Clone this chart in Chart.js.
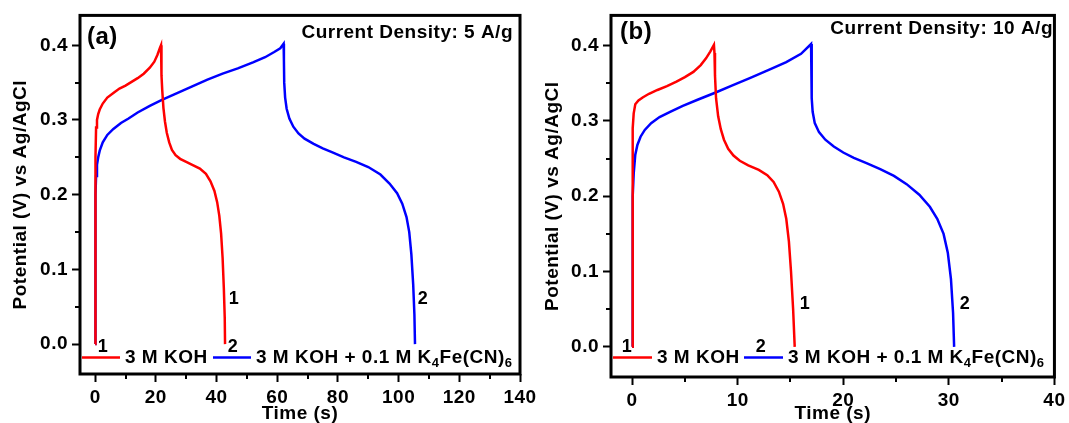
<!DOCTYPE html>
<html>
<head>
<meta charset="utf-8">
<script src="https://cdn.jsdelivr.net/npm/chart.js@4.4.0/dist/chart.umd.min.js"></script>
<style>
    html, body { margin: 0; padding: 0; background: #fff; }
    #wrap { position: relative; width: 1069px; height: 423px; overflow: hidden; }
    .painel { position: absolute; top: 0; height: 423px; }
</style>
</head>
<body>
<div id="wrap">
    <div class="painel" style="left:0;width:545px"><canvas id="graficoA" width="545" height="423"></canvas></div>
    <div class="painel" style="left:540px;width:529px"><canvas id="graficoB" width="529" height="423"></canvas></div>
</div>
<script>
// --- DADOS: carga/descarga galvanostática (tempo em s, potencial em V) ---

// (a) 5 A/g - 3 M KOH
const tempoKOH_5 = [0, 0.05, 0.15, 0.3, 0.6, 1.0, 1.5, 2.5, 4, 6, 8, 10, 12, 14, 16, 18, 19.5, 20.5, 21.3, 21.7,
    21.8, 21.9, 22.1, 22.5, 23.0, 23.6, 24.4, 25.3, 26.5, 28, 30, 32, 34.5, 36.5, 38, 39.3, 40.2, 40.9, 41.5, 42, 42.4, 42.7, 42.8];
const potKOH_5 = [0, 0.17, 0.25, 0.29, 0.30, 0.308, 0.314, 0.322, 0.33, 0.336, 0.342, 0.346, 0.351, 0.356, 0.362, 0.370, 0.378, 0.387, 0.396, 0.400,
    0.39, 0.36, 0.34, 0.316, 0.298, 0.283, 0.270, 0.260, 0.253, 0.248, 0.244, 0.240, 0.235, 0.228, 0.218, 0.205, 0.190, 0.172, 0.148, 0.115, 0.075, 0.035, 0];

// (a) 5 A/g - 3 M KOH + 0.1 M K4Fe(CN)6
const tempoFe_5 = [0, 0.05, 0.15, 0.3, 0.6, 1.0, 1.5, 2.5, 4, 6, 8.5, 11, 14, 18, 22, 27, 32, 37, 42, 47, 52, 56, 59, 61, 62.1,
    62.2, 62.3, 62.6, 63.1, 64, 65.3, 67, 69, 72, 75, 78, 82, 86, 90, 94, 97, 99.5, 101.2, 102.6, 103.5, 104.2, 104.8, 105.2, 105.4];
const potFe_5 = [0, 0.15, 0.2, 0.225, 0.24, 0.25, 0.259, 0.27, 0.28, 0.288, 0.296, 0.302, 0.31, 0.319, 0.327, 0.336, 0.345, 0.354, 0.362, 0.369, 0.377, 0.384, 0.391, 0.396, 0.402,
    0.38, 0.35, 0.33, 0.315, 0.302, 0.291, 0.282, 0.275, 0.268, 0.262, 0.257, 0.250, 0.244, 0.237, 0.227, 0.215, 0.202, 0.188, 0.170, 0.150, 0.120, 0.080, 0.040, 0];

// (b) 10 A/g - 3 M KOH
const tempoKOH_10 = [0, 0.03, 0.08, 0.15, 0.3, 0.6, 1.0, 1.6, 2.4, 3.3, 4.2, 5.0, 5.8, 6.5, 7.0, 7.4, 7.75,
    7.8, 7.85, 7.95, 8.15, 8.4, 8.7, 9.1, 9.6, 10.2, 11, 12, 12.8, 13.4, 13.9, 14.3, 14.6, 14.85, 15.05, 15.25, 15.4];
const potKOH_10 = [0, 0.2, 0.29, 0.31, 0.322, 0.327, 0.331, 0.336, 0.341, 0.346, 0.352, 0.358, 0.365, 0.374, 0.383, 0.392, 0.401,
    0.39, 0.36, 0.33, 0.306, 0.289, 0.275, 0.263, 0.254, 0.247, 0.241, 0.235, 0.228, 0.219, 0.206, 0.19, 0.17, 0.14, 0.1, 0.05, 0];

// (b) 10 A/g - 3 M KOH + 0.1 M K4Fe(CN)6
const tempoFe_10 = [0, 0.03, 0.08, 0.15, 0.3, 0.5, 0.8, 1.2, 1.8, 2.6, 3.6, 4.8, 6.2, 7.8, 9.5, 11.2, 13, 14.6, 16, 16.95,
    17.0, 17.02, 17.1, 17.3, 17.7, 18.3, 19.1, 20, 21, 22.2, 23.5, 24.8, 26, 27.2, 28.2, 28.9, 29.5, 29.9, 30.2, 30.4, 30.5];
const potFe_10 = [0, 0.15, 0.2, 0.23, 0.255, 0.268, 0.279, 0.288, 0.297, 0.305, 0.312, 0.32, 0.328, 0.337, 0.347, 0.357, 0.368, 0.378, 0.389, 0.402,
    0.38, 0.33, 0.312, 0.297, 0.285, 0.275, 0.266, 0.258, 0.251, 0.244, 0.236, 0.227, 0.216, 0.202, 0.186, 0.170, 0.150, 0.125, 0.09, 0.045, 0];

// Ticks do eixo Y (iguais nos dois painéis)
const ticksPotencial = [0, 0.1, 0.2, 0.3, 0.4];

const COR_KOH = '#ff0000';
const COR_FE = '#0000ff';
const FONTE = '"Liberation Sans", Arial, sans-serif';
const ESPACO_LETRA = '0.5px';

const paraPontos = (xs, ys) => xs.map((x, i) => ({ x: x, y: ys[i] }));

/**
 * Plugin: moldura, ticks menores, legenda e anotações de texto
 */
const plugPainel = {
    id: 'plugPainel',
    beforeDraw(chart) {
        chart.ctx.letterSpacing = ESPACO_LETRA;
    },
    afterDraw(chart, args, o) {
        const { ctx, chartArea: a, scales: { x, y } } = chart;
        ctx.save();
        ctx.letterSpacing = ESPACO_LETRA;

        // ticks menores (para fora)
        ctx.strokeStyle = '#000';
        ctx.lineWidth = 2;
        ctx.beginPath();
        o.menoresX.forEach(v => {
            const px = Math.round(x.getPixelForValue(v));
            ctx.moveTo(px, a.bottom); ctx.lineTo(px, a.bottom + 5);
        });
        o.menoresY.forEach(v => {
            const py = Math.round(y.getPixelForValue(v));
            ctx.moveTo(a.left, py); ctx.lineTo(a.left - 5, py);
        });
        ctx.stroke();

        // moldura
        ctx.lineWidth = 3;
        ctx.strokeRect(a.left, a.top, a.right - a.left, a.bottom - a.top);

        ctx.fillStyle = '#000';
        ctx.textBaseline = 'middle';

        // (a) / (b)
        ctx.font = 'bold 24px ' + FONTE;
        ctx.textAlign = 'left';
        ctx.fillText(o.letra[0], o.letra[1], o.letra[2]);

        // densidade de corrente
        ctx.font = 'bold 19px ' + FONTE;
        ctx.textAlign = 'right';
        ctx.fillText(o.densidade[0], o.densidade[1], o.densidade[2]);

        // números das curvas
        ctx.font = 'bold 18px ' + FONTE;
        ctx.textAlign = 'center';
        o.numeros.forEach(n => ctx.fillText(n[0], n[1], n[2]));

        // legenda
        const lg = o.legenda;
        ctx.lineWidth = 2.5;
        ctx.strokeStyle = COR_KOH;
        ctx.beginPath(); ctx.moveTo(lg.linhaKOH[0], lg.y); ctx.lineTo(lg.linhaKOH[1], lg.y); ctx.stroke();
        ctx.strokeStyle = COR_FE;
        ctx.beginPath(); ctx.moveTo(lg.linhaFe[0], lg.y); ctx.lineTo(lg.linhaFe[1], lg.y); ctx.stroke();

        ctx.textAlign = 'left';
        ctx.font = 'bold 19px ' + FONTE;
        ctx.fillText('3 M KOH', lg.textoKOH, lg.y);

        let px = lg.textoFe;
        const partes = [['3 M KOH + 0.1 M K', false], ['4', true], ['Fe(CN)', false], ['6', true]];
        partes.forEach(([t, sub]) => {
            ctx.font = (sub ? 'bold 13px ' : 'bold 19px ') + FONTE;
            ctx.fillText(t, px, lg.y + (sub ? 6 : 0));
            px += ctx.measureText(t).width;
        });

        ctx.restore();
    }
};

/**
 * Cria um painel de carga/descarga
 */
function criarPainel(canvasId, cfg) {
    const ctx = document.getElementById(canvasId);
    if (!ctx) return;

    const fonteEixo = { family: FONTE, size: 19, weight: 'bold', lineHeight: 1 };
    const eixoComum = {
        type: 'linear',
        border: { display: false },
        grid: {
            drawOnChartArea: false,
            drawTicks: true,
            tickLength: 8,
            tickWidth: 2,
            tickColor: '#000'
        }
    };

    return new Chart(ctx, {
        type: 'scatter',
        data: {
            datasets: [
                {
                    label: '3 M KOH',
                    data: paraPontos(cfg.tKOH, cfg.vKOH),
                    showLine: true,
                    borderColor: COR_KOH,
                    borderWidth: 2.5,
                    pointRadius: 0,
                    tension: 0
                },
                {
                    label: '3 M KOH + 0.1 M K4Fe(CN)6',
                    data: paraPontos(cfg.tFe, cfg.vFe),
                    showLine: true,
                    borderColor: COR_FE,
                    borderWidth: 2.5,
                    pointRadius: 0,
                    tension: 0
                }
            ]
        },
        options: {
            responsive: false,
            animation: false,
            layout: { padding: cfg.padding },
            plugins: {
                legend: { display: false },
                tooltip: { enabled: false },
                plugPainel: cfg.textos
            },
            scales: {
                x: {
                    ...eixoComum,
                    min: cfg.xMin,
                    max: cfg.xMax,
                    afterFit: (s) => { s.height = cfg.alturaX; },
                    ticks: {
                        stepSize: cfg.passoX,
                        includeBounds: false,
                        maxRotation: 0,
                        padding: 4,
                        color: '#000',
                        font: { family: FONTE, size: 19, weight: 'bold' }
                    },
                    title: {
                        display: true,
                        text: 'Time (s)',
                        color: '#000',
                        font: fonteEixo,
                        padding: { top: 0, bottom: cfg.padTituloX }
                    }
                },
                y: {
                    ...eixoComum,
                    min: -0.04,
                    max: 0.44,
                    afterFit: (s) => { s.width = cfg.larguraY; },
                    afterBuildTicks: (s) => { s.ticks = ticksPotencial.map(v => ({ value: v })); },
                    ticks: {
                        padding: 4,
                        color: '#000',
                        font: { family: FONTE, size: 19, weight: 'bold' },
                        callback: (v) => Number(v).toFixed(1)
                    },
                    title: {
                        display: true,
                        text: 'Potential (V) vs Ag/AgCl',
                        color: '#000',
                        font: fonteEixo,
                        padding: { top: cfg.padTituloY, bottom: 0 }
                    }
                }
            }
        },
        plugins: [plugPainel]
    });
}

criarPainel('graficoA', {
    tKOH: tempoKOH_5, vKOH: potKOH_5, tFe: tempoFe_5, vFe: potFe_5,
    xMin: -5, xMax: 140, passoX: 20,
    padding: { top: 15, right: 25, left: 0, bottom: 0 },
    larguraY: 80, alturaX: 49, padTituloY: 11.5, padTituloX: 0,
    textos: {
        menoresX: [10, 30, 50, 70, 90, 110, 130],
        menoresY: [0.05, 0.15, 0.25, 0.35],
        letra: ['(a)', 87, 37],
        densidade: ['Current Density: 5 A/g', 513, 33],
        numeros: [['1', 103, 347], ['2', 233, 347], ['1', 234, 299], ['2', 423, 299]],
        legenda: { y: 357.5, linhaKOH: [82, 120], textoKOH: 125, linhaFe: [213, 251], textoFe: 256 }
    }
});

criarPainel('graficoB', {
    tKOH: tempoKOH_10, vKOH: potKOH_10, tFe: tempoFe_10, vFe: potFe_10,
    xMin: -2, xMax: 40, passoX: 10,
    padding: { top: 13, right: 13, left: 0, bottom: 0 },
    larguraY: 71, alturaX: 46, padTituloY: 3.5, padTituloX: 0,
    textos: {
        menoresX: [5, 15, 25, 35],
        menoresY: [0.05, 0.15, 0.25, 0.35],
        letra: ['(b)', 80, 32],
        densidade: ['Current Density: 10 A/g', 513, 29],
        numeros: [['1', 87, 347], ['2', 221, 347], ['1', 265, 304], ['2', 425, 304]],
        legenda: { y: 357.5, linhaKOH: [73, 112], textoKOH: 117, linhaFe: [204, 243], textoFe: 248 }
    }
});
</script>
</body>
</html>
